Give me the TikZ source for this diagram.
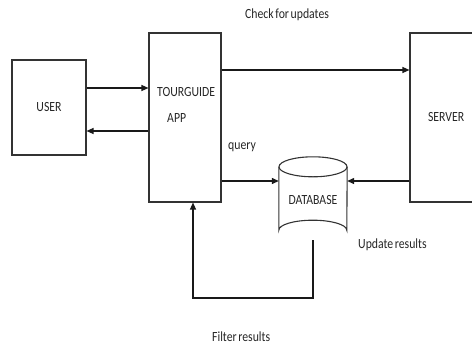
\documentclass[tikz,border=0pt]{standalone}
\usepackage{fontspec}
\setmainfont{Carlito}[FakeStretch=0.84,WordSpace=0.6]
\usetikzlibrary{arrows.meta,calc}
\begin{document}
\begin{tikzpicture}[x=1pt,y=-1pt,
  box/.style={draw=black!80,line width=1.1pt,minimum width=#1,inner sep=0pt,font=\fontsize{14}{16}\selectfont},
  lbl/.style={inner sep=0pt,font=\fontsize{14}{16}\selectfont,anchor=west,text=black!85},
  arr/.style={draw=black!90,line width=1.3pt,-{Triangle[length=7pt,width=6pt]}},
  ln/.style={draw=black!80,line width=1.1pt}]
\useasboundingbox (0,0) rectangle (472,346);
\clip (0,0) rectangle (472,346);
% boxes
\node[box=74pt,minimum height=95pt,text=black!85] (user) at (49,107.5) {USER};
\node[box=72pt,minimum height=169pt] (app) at (185,117.5) {};
\node[lbl] (apptxt) at (157,92) {TOURGUIDE};
\node[lbl] (apptxt2) at (167,118) {APP};
\node[box=100pt,minimum height=169pt,text width=90pt,align=left,text=black!85] (server) at (460,117.5) {\hspace{13pt}SERVER};
% database
\node[minimum width=68pt,minimum height=83pt,inner sep=0pt] (db) at (313,198.5) {};
\draw[ln] (db.north west) ++(0,10) coordinate (dtl) -- ($(db.south west)+(0,-10)$)
  arc[start angle=180,end angle=360,x radius=34,y radius=10] -- ($(db.north east)+(0,10)$);
\draw[ln] ($(db.north)+(0,10)$) ellipse[x radius=34,y radius=10];
\node[inner sep=0pt,font=\fontsize{14}{16}\selectfont,text=black!85] (dbtxt) at (313,200) {DATABASE};
% helper coordinates
\coordinate (y88) at (0,88);
\coordinate (y131) at (0,131);
\coordinate (y70) at (0,70);
\coordinate (y181) at (0,181);
\coordinate (y298) at (0,298);
\coordinate (x193) at (193,0);
% connectors
\draw[arr] (user.east |- y88) -- (app.west |- y88);
\draw[arr] (app.west |- y131) -- (user.east |- y131);
\draw[arr] (app.east |- y70) -- (server.west |- y70);
\draw[arr] (app.east |- y181) -- (db.west |- y181);
\draw[arr] (server.west |- y181) -- (db.east |- y181);
\draw[arr] (db.south) -- (db.south |- y298) -- (x193 |- y298) -- (x193 |- app.south);
% labels
\node[lbl] (l1) at (245,15) {Check for updates};
\node[lbl] (l2) at (228,147) {query};
\node[lbl] (l3) at (358,245) {Update results};
\node[lbl] (l4) at (212,337) {Filter results};
\end{tikzpicture}
\end{document}
